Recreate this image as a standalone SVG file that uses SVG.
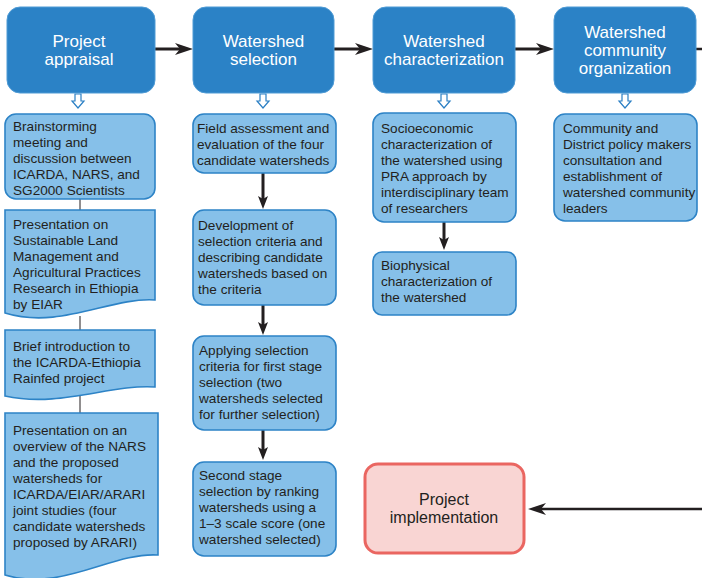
<svg xmlns="http://www.w3.org/2000/svg" width="702" height="578" viewBox="0 0 702 578">
<style>
.hdr{fill:#2b82c6;stroke:#4f9bd5;stroke-width:1}
.ht{font-family:"Liberation Sans",Arial,sans-serif;font-size:17px;fill:#ffffff;text-anchor:middle}
.box{fill:#86c0e9;stroke:#2d83c6;stroke-width:1.6}
.bt{font-family:"Liberation Sans",Arial,sans-serif;font-size:13.6px;fill:#231f20}
.hollow{fill:#ffffff;stroke:#2a7fc4;stroke-width:1.2}
.thick{fill:none;stroke:#231f20;stroke-width:3}
.thin{fill:none;stroke:#231f20;stroke-width:1}
.impl{fill:#f9d5d3;stroke:#ea6661;stroke-width:3}
.it{font-family:"Liberation Sans",Arial,sans-serif;font-size:16px;fill:#231f20;text-anchor:middle}
</style>
<defs>
<marker id="ah" markerUnits="userSpaceOnUse" markerWidth="18" markerHeight="12" refX="10" refY="6" orient="auto" overflow="visible">
<path d="M0,0 L18,6 L0,12 L5,6 Z" fill="#231f20"/>
</marker>
<marker id="av" markerUnits="userSpaceOnUse" markerWidth="13" markerHeight="10" refX="8" refY="5" orient="auto" overflow="visible">
<path d="M0,0 L13,5 L0,10 L3,5 Z" fill="#231f20"/>
</marker>
</defs>

<g id="connectors">
<path class="thick" d="M155,49 H185" marker-end="url(#ah)"/>
<path class="thick" d="M334,49 H365" marker-end="url(#ah)"/>
<path class="thick" d="M515,49 H546" marker-end="url(#ah)"/>
<path fill="none" stroke="#231f20" stroke-width="2.5" d="M696,49 H720 V509 H536" marker-end="url(#ah)"/>
<path class="thick" d="M263,173 V204" marker-end="url(#av)"/>
<path class="thick" d="M263,305 V330" marker-end="url(#av)"/>
<path class="thick" d="M263,430 V455" marker-end="url(#av)"/>
<path class="thick" d="M444,222 V245" marker-end="url(#av)"/>
<path class="thin" d="M80,199 V210"/>
<path class="thin" d="M80,316 V330"/>
<path class="thin" d="M80,395 V413"/>
<path class="hollow" d="M75,94 H81 V101 H84 L78,108 L72,101 H75 Z"/>
<path class="hollow" d="M260,94 H266 V101 H269 L263,108 L257,101 H260 Z"/>
<path class="hollow" d="M441,94 H447 V101 H450 L444,108 L438,101 H441 Z"/>
<path class="hollow" d="M622,94 H628 V101 H631 L625,108 L619,101 H622 Z"/>
</g>

<g id="project-appraisal">
<rect class="hdr" x="7" y="7" width="148" height="86" rx="13"/>
<text class="ht" x="79" y="47">Project</text>
<text class="ht" x="79" y="65">appraisal</text>
</g>
<g id="watershed-selection">
<rect class="hdr" x="193" y="7" width="141" height="86" rx="13"/>
<text class="ht" x="263.5" y="47">Watershed</text>
<text class="ht" x="263.5" y="65">selection</text>
</g>
<g id="watershed-characterization">
<rect class="hdr" x="373" y="7" width="142" height="86" rx="13"/>
<text class="ht" x="444" y="47">Watershed</text>
<text class="ht" x="444" y="65">characterization</text>
</g>
<g id="watershed-community-organization">
<rect class="hdr" x="554" y="7" width="142" height="86" rx="13"/>
<text class="ht" x="625" y="38">Watershed</text>
<text class="ht" x="625" y="56">community</text>
<text class="ht" x="625" y="74">organization</text>
</g>

<g id="brainstorming">
<rect class="box" x="5" y="114" width="150" height="85" rx="11"/>
<text class="bt" x="13" y="131">Brainstorming</text>
<text class="bt" x="13" y="147">meeting and</text>
<text class="bt" x="13" y="163">discussion between</text>
<text class="bt" x="13" y="179">ICARDA, NARS, and</text>
<text class="bt" x="13" y="195">SG2000 Scientists</text>
</g>
<g id="presentation-slm">
<path class="box" d="M5,210 H155 V300 C110,297 60,330 5,313 Z"/>
<text class="bt" x="13" y="229">Presentation on</text>
<text class="bt" x="13" y="245">Sustainable Land</text>
<text class="bt" x="13" y="261">Management and</text>
<text class="bt" x="13" y="277">Agricultural Practices</text>
<text class="bt" x="13" y="293">Research in Ethiopia</text>
<text class="bt" x="13" y="309">by EIAR</text>
</g>
<g id="brief-introduction">
<path class="box" d="M5,330 H155 V387 C110,384 60,408 5,396 Z"/>
<text class="bt" x="13" y="351">Brief introduction to</text>
<text class="bt" x="13" y="367">the ICARDA-Ethiopia</text>
<text class="bt" x="13" y="383">Rainfed project</text>
</g>
<g id="presentation-nars">
<path class="box" d="M5,413 H158 V555 C112,552 62,592 5,575 Z"/>
<text class="bt" x="13" y="435">Presentation on an</text>
<text class="bt" x="13" y="451">overview of the NARS</text>
<text class="bt" x="13" y="467">and the proposed</text>
<text class="bt" x="13" y="483">watersheds for</text>
<text class="bt" x="13" y="499">ICARDA/EIAR/ARARI</text>
<text class="bt" x="13" y="515">joint studies (four</text>
<text class="bt" x="13" y="531">candidate watersheds</text>
<text class="bt" x="13" y="547">proposed by ARARI)</text>
</g>

<g id="field-assessment">
<rect class="box" x="193" y="114" width="143" height="59" rx="11"/>
<text class="bt" x="197" y="133">Field assessment and</text>
<text class="bt" x="197" y="149">evaluation of the four</text>
<text class="bt" x="197" y="165">candidate watersheds</text>
</g>
<g id="development-criteria">
<rect class="box" x="193" y="210" width="143" height="95" rx="11"/>
<text class="bt" x="198" y="230">Development of</text>
<text class="bt" x="198" y="246">selection criteria and</text>
<text class="bt" x="198" y="262">describing candidate</text>
<text class="bt" x="198" y="278">watersheds based on</text>
<text class="bt" x="198" y="294">the criteria</text>
</g>
<g id="first-stage">
<rect class="box" x="193" y="336" width="143" height="94" rx="11"/>
<text class="bt" x="199" y="355">Applying selection</text>
<text class="bt" x="199" y="371">criteria for first stage</text>
<text class="bt" x="199" y="387">selection (two</text>
<text class="bt" x="199" y="403">watersheds selected</text>
<text class="bt" x="199" y="419">for further selection)</text>
</g>
<g id="second-stage">
<rect class="box" x="193" y="462" width="143" height="94" rx="11"/>
<text class="bt" x="199" y="480">Second stage</text>
<text class="bt" x="199" y="496">selection by ranking</text>
<text class="bt" x="199" y="512">watersheds using a</text>
<text class="bt" x="199" y="528">1–3 scale score (one</text>
<text class="bt" x="199" y="544">watershed selected)</text>
</g>

<g id="socioeconomic">
<rect class="box" x="373" y="113" width="143" height="109" rx="11"/>
<text class="bt" x="381" y="133">Socioeconomic</text>
<text class="bt" x="381" y="149">characterization of</text>
<text class="bt" x="381" y="165">the watershed using</text>
<text class="bt" x="381" y="181">PRA approach by</text>
<text class="bt" x="381" y="197">interdisciplinary team</text>
<text class="bt" x="381" y="213">of researchers</text>
</g>
<g id="biophysical">
<rect class="box" x="373" y="252" width="143" height="63" rx="9"/>
<text class="bt" x="381" y="270">Biophysical</text>
<text class="bt" x="381" y="286">characterization of</text>
<text class="bt" x="381" y="302">the watershed</text>
</g>

<g id="community-consultation">
<rect class="box" x="554" y="114" width="143" height="107" rx="11"/>
<text class="bt" x="563" y="133">Community and</text>
<text class="bt" x="563" y="149">District policy makers</text>
<text class="bt" x="563" y="165">consultation and</text>
<text class="bt" x="563" y="181">establishment of</text>
<text class="bt" x="563" y="197">watershed community</text>
<text class="bt" x="563" y="213">leaders</text>
</g>

<g id="project-implementation">
<rect class="impl" x="365" y="464" width="159" height="89" rx="13"/>
<text class="it" x="444" y="505">Project</text>
<text class="it" x="444" y="523">implementation</text>
</g>
</svg>
